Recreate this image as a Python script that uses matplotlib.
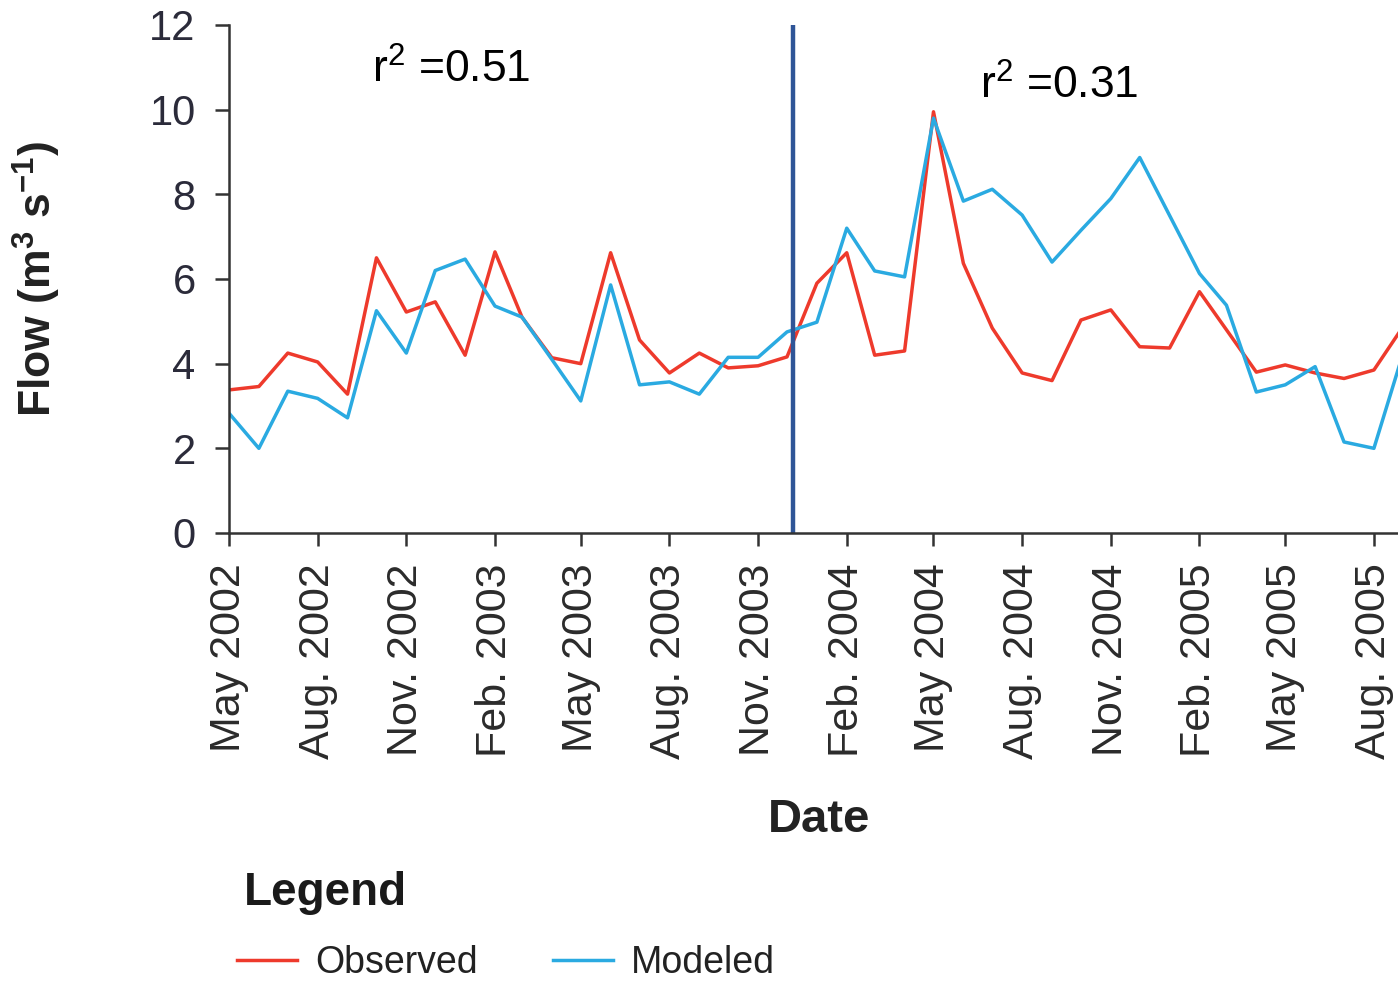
import datetime as dt
import matplotlib
matplotlib.use("Agg")
import matplotlib.pyplot as plt

plt.rcParams['font.family'] = ['Liberation Sans', 'DejaVu Sans']
plt.rcParams['mathtext.fontset'] = 'custom'
plt.rcParams['mathtext.rm'] = 'Liberation Sans'
plt.rcParams['mathtext.it'] = 'Liberation Sans'
plt.rcParams['mathtext.bf'] = 'Liberation Sans:bold'

# monthly flow, May 2002 .. Sep 2005
start_year, start_month = 2002, 5
observed = [3.38, 3.46, 4.25, 4.04, 3.28, 6.5, 5.22, 5.46, 4.2, 6.64,
            5.1, 4.14, 4.0, 6.62, 4.56, 3.78, 4.25, 3.9, 3.95, 4.16,
            5.9, 6.62, 4.2, 4.3, 9.95, 6.37, 4.84, 3.78, 3.6, 5.03,
            5.27, 4.4, 4.37, 5.7, 4.8, 3.8, 3.97, 3.78, 3.65, 3.85, 4.9]
modeled = [2.83, 2.0, 3.35, 3.18, 2.72, 5.25, 4.25, 6.2, 6.47, 5.36,
           5.1, 4.1, 3.12, 5.86, 3.5, 3.57, 3.28, 4.15, 4.15, 4.75,
           4.98, 7.2, 6.19, 6.05, 9.8, 7.84, 8.12, 7.51, 6.4, 7.15,
           7.9, 8.87, 7.5, 6.13, 5.38, 3.33, 3.5, 3.93, 2.15, 2.0, 4.3]
split_date = dt.date(2003, 12, 7)
r2_labels = ['r$^2$ =0.51', 'r$^2$ =0.31']
month_names = {2: 'Feb.', 5: 'May', 8: 'Aug.', 11: 'Nov.'}

dates = []
for i in range(len(observed)):
    m = start_month - 1 + i
    dates.append(dt.date(start_year + m // 12, m % 12 + 1, 1))

fig = plt.figure(figsize=(13.98, 9.84), dpi=100)
ax = fig.add_axes([229 / 1398, 1 - 533 / 984, 1 - 229 / 1398, 508 / 984])

red = '#EE3A2C'
blue = '#2AAAE1'
l_obs, = ax.plot(dates, observed, color=red, lw=2.5, label='Observed')
l_mod, = ax.plot(dates, modeled, color=blue, lw=2.5, label='Modeled')
ax.axvline(split_date, color='#2F5597', lw=3.2)

ax.set_xlim(dates[0], dates[0] + dt.timedelta(days=1213))
ax.set_ylim(0, 12)

ticks = dates[::3]
ax.set_xticks(ticks)
ax.set_xticklabels(['%s %d' % (month_names[d.month], d.year) for d in ticks],
                   rotation=90, fontsize=31, color='#2b2b2b')
ax.set_yticks(range(0, 13, 2))
ax.tick_params(axis='y', labelsize=30, labelcolor='#2b2b3a', length=10,
               width=1.8, pad=14, color='#333333')
ax.tick_params(axis='x', length=9, width=1.8, pad=13, color='#333333')

for s in ['top', 'right']:
    ax.spines[s].set_visible(False)
for s in ['left', 'bottom']:
    ax.spines[s].set_linewidth(1.8)
    ax.spines[s].set_color('#333333')

ax.set_ylabel(r'Flow (m$^\mathbf{3}$ s$^\mathbf{-1}$)', fontsize=32,
              fontweight='bold', color='#222222')
ax.yaxis.set_label_coords(-0.142, 0.5)
ax.set_xlabel('Date', fontsize=34, fontweight='bold', color='#222222')
ax.xaxis.set_label_coords(0.505, -0.565)
ax.xaxis.label.set_va('center')

fig.text(372 / 1398, 1 - 70 / 984, r2_labels[0], fontsize=32, va='center')
fig.text(980 / 1398, 1 - 86 / 984, r2_labels[1], fontsize=32, va='center')

# legend: title as plain text, entries below
fig.text(244 / 1398, 1 - 893 / 984, 'Legend', fontsize=33,
         fontweight='bold', color='#1a1a1a', va='center')
leg = fig.legend(handles=[l_obs, l_mod], loc='center left', ncol=2,
                 bbox_to_anchor=(237 / 1398, 1 - 963 / 984), frameon=False,
                 fontsize=27, handlelength=1.6, handletextpad=0.48,
                 columnspacing=2.0, borderpad=0, borderaxespad=0)
for t in leg.get_texts():
    t.set_color('#222222')

fig.savefig('out.png', dpi=100)
